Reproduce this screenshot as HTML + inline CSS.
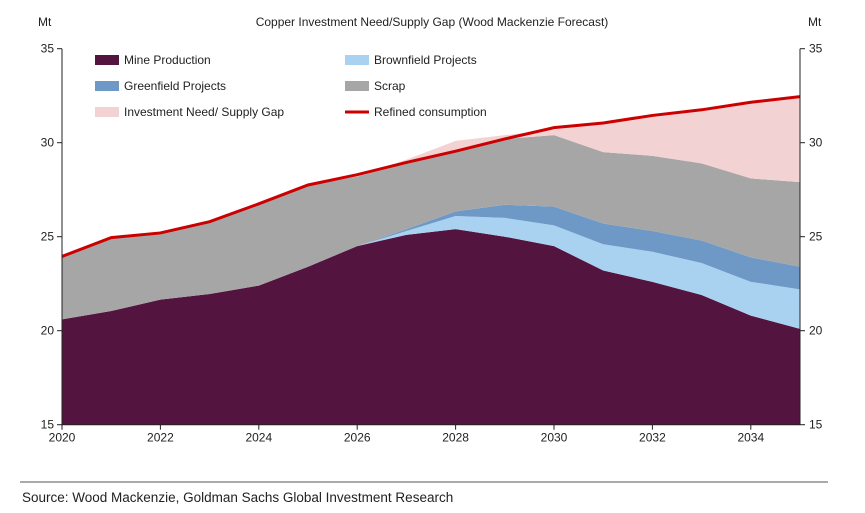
<!DOCTYPE html>
<html><head><meta charset="utf-8"><style>
body{margin:0;background:#fff;font-family:"Liberation Sans",Arial,sans-serif;}
svg text{font-family:"Liberation Sans",Arial,sans-serif;}
</style></head><body>
<svg id="chart" width="865" height="508" viewBox="0 0 865 508">
<text x="432" y="26" font-size="12" text-anchor="middle" fill="#222">Copper Investment Need/Supply Gap (Wood Mackenzie Forecast)</text>
<text x="38" y="26" font-size="12" fill="#222">Mt</text>
<text x="808" y="26" font-size="12" fill="#222">Mt</text>
<g id="areas"></g>
<g id="axes"></g>
<g id="legend"></g>
<line x1="20" y1="482" x2="828" y2="482" stroke="#555" stroke-width="1"/>
<text x="22" y="502" font-size="13.5" fill="#222">Source: Wood Mackenzie, Goldman Sachs Global Investment Research</text>
</svg>
<script>
const years=[2020,2021,2022,2023,2024,2025,2026,2027,2028,2029,2030,2031,2032,2033,2034,2035];
const mine=[20.6,21.05,21.65,21.95,22.4,23.4,24.5,25.1,25.4,25.0,24.5,23.2,22.6,21.9,20.8,20.1];
const brownfield=[0,0,0,0,0,0,0,0.2,0.7,1.0,1.1,1.4,1.6,1.7,1.8,2.1];
const greenfield=[0,0,0,0,0,0,0,0.1,0.25,0.7,1.0,1.1,1.1,1.2,1.3,1.2];
const scrap=[3.3,3.85,3.55,3.85,4.3,4.3,3.7,3.5,3.15,3.5,3.8,3.8,4.0,4.1,4.2,4.5];
const gap=[0,0,0,0,0,0,0,0.2,0.6,0.2,0.3,1.55,2.15,2.85,4.05,4.55];
const consumption=[23.95,24.95,25.2,25.8,26.75,27.75,28.3,28.95,29.55,30.2,30.8,31.05,31.45,31.75,32.15,32.45];
const yTicks=[15,20,25,30,35];
const xTicks=[2020,2022,2024,2026,2028,2030,2032,2034];

const X0=62,X1=800,Y0=424.7,Y1=48.7;
const xs=y=>X0+(y-2020)/15*(X1-X0);
const ys=v=>Y0+(v-15)/20*(Y1-Y0);
const NS="http://www.w3.org/2000/svg";
function mk(tag,attrs,parent){const e=document.createElementNS(NS,tag);for(const k in attrs)e.setAttribute(k,attrs[k]);parent.appendChild(e);return e;}
const areas=document.getElementById('areas'),axes=document.getElementById('axes'),legend=document.getElementById('legend');
const series=[
 {d:mine,c:'#53143f',n:'mine-production-area'},
 {d:brownfield,c:'#a9d1f0',n:'brownfield-projects-area'},
 {d:greenfield,c:'#6e98c6',n:'greenfield-projects-area'},
 {d:scrap,c:'#a6a6a6',n:'scrap-area'},
 {d:gap,c:'#f3d2d3',n:'investment-gap-area'}];
let base=years.map(()=>15);
series.forEach(s=>{
 const top=base.map((b,i)=>(b===15?15:b)+s.d[i]);
 const tp=base.map((b,i)=>b+s.d[i]- (b===15?0:0));
 let pts=[];
 const topv=years.map((y,i)=>(base[i]===15?15+ (s.d[i]-15):base[i]+s.d[i]));
 for(let i=0;i<years.length;i++)pts.push(xs(years[i])+','+ys(topv[i]));
 for(let i=years.length-1;i>=0;i--)pts.push(xs(years[i])+','+ys(base[i]));
 const p=mk('polygon',{points:pts.join(' '),fill:s.c},areas);
 
 
 base=topv;
});
const line=mk('polyline',{points:years.map((y,i)=>xs(y)+','+ys(consumption[i])).join(' '),fill:'none',stroke:'#cc0000','stroke-width':3},areas);


// axes
mk('line',{x1:X0,y1:Y1,x2:X0,y2:Y0,stroke:'#222'},axes);
mk('line',{x1:X1,y1:Y1,x2:X1,y2:Y0,stroke:'#222'},axes);
mk('line',{x1:X0,y1:Y0,x2:X1,y2:Y0,stroke:'#222'},axes);
yTicks.forEach(v=>{
 mk('line',{x1:X0-5,y1:ys(v),x2:X0,y2:ys(v),stroke:'#222'},axes);
 mk('line',{x1:X1,y1:ys(v),x2:X1+5,y2:ys(v),stroke:'#222'},axes);
 const t=mk('text',{x:X0-8,y:ys(v)+4,'font-size':12,'text-anchor':'end',fill:'#222'},axes);t.textContent=v;
 
 
 const t2=mk('text',{x:X1+9,y:ys(v)+4,'font-size':12,fill:'#222'},axes);t2.textContent=v;
 
 
});
xTicks.forEach(v=>{
 mk('line',{x1:xs(v),y1:Y0,x2:xs(v),y2:Y0+5,stroke:'#222'},axes);
 const t=mk('text',{x:xs(v),y:Y0+17,'font-size':12,'text-anchor':'middle',fill:'#222'},axes);t.textContent=v;
 
 
});
// legend
const leg=[['Mine Production','#53143f',95,60,0],['Brownfield Projects','#a9d1f0',345,60,0],['Greenfield Projects','#6e98c6',95,86,0],['Scrap','#a6a6a6',345,86,0],['Investment Need/ Supply Gap','#f3d2d3',95,112,0],['Refined consumption','#cc0000',345,112,1]];
leg.forEach(l=>{
 const g=mk('g',{},legend);
 
 
 if(l[4])mk('line',{x1:l[2],y1:l[3],x2:l[2]+24,y2:l[3],stroke:l[1],'stroke-width':3},g);
 else mk('rect',{x:l[2],y:l[3]-5,width:24,height:10,fill:l[1]},g);
 const t=mk('text',{x:l[2]+29,y:l[3]+4,'font-size':12,fill:'#222'},g);t.textContent=l[0];
});
</script>
</body></html>
